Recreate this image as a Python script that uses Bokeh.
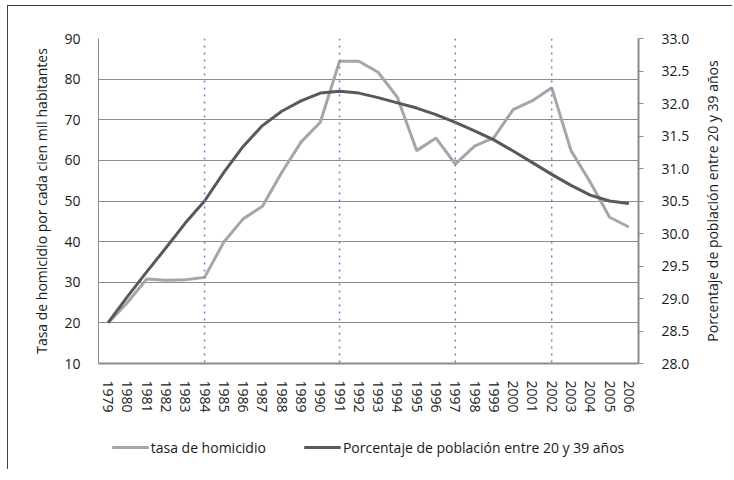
from bokeh.plotting import figure
from bokeh.layouts import column, row
from bokeh.models import (Range1d, LinearAxis, FixedTicker, Legend, LegendItem,
                          Span, ColumnDataSource, NumeralTickFormatter, Label)
from bokeh.embed import file_html
from bokeh.resources import INLINE

years = list(range(1979, 2007))
tasa_homicidio = [20.0, 25.0, 30.8, 30.5, 30.6, 31.2, 39.9, 45.6, 48.7, 57.0,
                  64.5, 69.4, 84.4, 84.4, 81.7, 75.5, 62.4, 65.5, 59.1, 63.5,
                  65.6, 72.5, 74.7, 77.9, 62.4, 54.6, 46.0, 43.6]
porcentaje_20_39 = [28.63, 29.03, 29.41, 29.78, 30.16, 30.50, 30.94, 31.34, 31.66, 31.88,
                    32.04, 32.16, 32.19, 32.16, 32.09, 32.01, 31.93, 31.83, 31.71, 31.58,
                    31.44, 31.27, 31.09, 30.91, 30.74, 30.59, 30.50, 30.46]
marked_years = [1984, 1991, 1997, 2002]
left_ticks = [10, 20, 30, 40, 50, 60, 70, 80, 90]
right_ticks = [28.0, 28.5, 29.0, 29.5, 30.0, 30.5, 31.0, 31.5, 32.0, 32.5, 33.0]
series_labels = ["tasa de homicidio", "Porcentaje de población entre 20 y 39 años"]
left_title = "Tasa de homicidio por cada cien mil habitantes"
right_title = "Porcentaje de población entre 20 y 39 años"

FONT = "Open Sans"
TXT = "#1a1a1a"
GRID = "#8c8c8c"
C_HOM = "#a6a6a6"
C_PCT = "#595959"
BORDER = "1px solid #404040"

idx = [y - years[0] for y in years]
src = ColumnDataSource(dict(x=idx, hom=tasa_homicidio, pct=porcentaje_20_39))

# ---------------- main chart ----------------
p = figure(width=684, height=420, output_backend="svg", toolbar_location=None,
           x_range=Range1d(-0.5, len(years) - 0.5), y_range=Range1d(10, 90),
           min_border_left=90, min_border_right=54, min_border_top=32, min_border_bottom=63,
           background_fill_color="white", border_fill_color="white")
p.outline_line_color = None
p.styles = {"border-left": BORDER, "border-top": BORDER,
            "margin-left": "7px", "margin-top": "5px"}

p.extra_y_ranges = {"pct": Range1d(28, 33)}

p.xgrid.grid_line_color = None
p.ygrid.ticker = FixedTicker(ticks=left_ticks)
p.ygrid.grid_line_color = GRID
p.ygrid.grid_line_width = 1

xa = p.xaxis[0]
xa.ticker = FixedTicker(ticks=idx)
xa.major_label_overrides = {i: str(y) for i, y in zip(idx, years)}
xa.major_label_orientation = "vertical"
xa.major_tick_line_color = None
xa.minor_tick_line_color = None
xa.axis_line_color = GRID
xa.axis_line_width = 2
xa.major_label_standoff = 11
xa.major_label_text_font = FONT
xa.major_label_text_font_size = "14px"
xa.major_label_text_color = TXT

ya = p.yaxis[0]
ya.ticker = FixedTicker(ticks=left_ticks)
ya.major_tick_line_color = None
ya.minor_tick_line_color = None
ya.axis_line_color = GRID
ya.axis_line_width = 1
ya.major_label_standoff = 12
ya.major_label_text_font = FONT
ya.major_label_text_font_size = "14px"
ya.major_label_text_color = TXT
ya.axis_label = left_title
ya.axis_label_text_font = FONT
ya.axis_label_text_font_style = "normal"
ya.axis_label_text_font_size = "14px"
ya.axis_label_text_color = TXT
ya.axis_label_standoff = 10

ra = LinearAxis(y_range_name="pct", ticker=FixedTicker(ticks=right_ticks),
                formatter=NumeralTickFormatter(format="0.0"))
ra.major_tick_out = 5
ra.major_tick_in = 0
ra.major_tick_line_color = GRID
ra.minor_tick_line_color = None
ra.axis_line_color = GRID
ra.axis_line_width = 2
ra.major_label_standoff = 18
ra.major_label_text_font = FONT
ra.major_label_text_font_size = "14px"
ra.major_label_text_color = TXT
p.add_layout(ra, "right")

for y in marked_years:
    p.add_layout(Span(location=y - years[0], dimension="height", line_color="#5b8cc8",
                      line_width=1.5, line_dash="2 5"))

p.line("x", "hom", source=src, line_color=C_HOM, line_width=3)
p.line("x", "pct", source=src, y_range_name="pct", line_color=C_PCT, line_width=3,
       line_join="round")

# ---------------- right axis title strip ----------------
rfig = figure(width=41, height=420, output_backend="svg", toolbar_location=None,
              x_range=Range1d(0, 1), y_range=Range1d(0, 1),
              x_axis_location=None, y_axis_location=None,
              min_border_left=0, min_border_right=0, min_border_top=32, min_border_bottom=63,
              background_fill_color="white", border_fill_color="white")
rfig.grid.visible = False
rfig.outline_line_color = None
rfig.styles = {"border-top": BORDER, "margin-top": "5px"}
rfig.add_layout(Label(x=0.5, y=0.5, text=right_title, angle=90, angle_units="deg",
                      text_align="center", text_baseline="middle", text_font=FONT,
                      text_font_size="14px", text_color=TXT))

# ---------------- legend strip ----------------
lg = figure(width=725, height=44, output_backend="svg", toolbar_location=None,
            x_range=Range1d(-100, -99), y_range=Range1d(-100, -99),
            x_axis_location=None, y_axis_location=None,
            min_border_left=90, min_border_right=95, min_border_top=0, min_border_bottom=0,
            background_fill_color="white", border_fill_color="white")
lg.grid.visible = False
lg.outline_line_color = None
lg.styles = {"border-left": BORDER, "margin-left": "7px"}
l1 = lg.line("x", "hom", source=src, line_color=C_HOM, line_width=3)
l2 = lg.line("x", "pct", source=src, line_color=C_PCT, line_width=3)

legend = Legend(items=[LegendItem(label=series_labels[0], renderers=[l1]),
                       LegendItem(label=series_labels[1], renderers=[l2])],
                orientation="horizontal", location="center", padding=0, margin=0,
                spacing=38, glyph_width=37, glyph_height=20, label_standoff=2,
                label_height=20, border_line_color=None, background_fill_alpha=0,
                label_text_font=FONT, label_text_font_size="14px", label_text_color=TXT)
lg.add_layout(legend, "center")

layout = column(row(p, rfig, spacing=0), lg, spacing=0)
open("out.html", "w").write(file_html(layout, INLINE))
